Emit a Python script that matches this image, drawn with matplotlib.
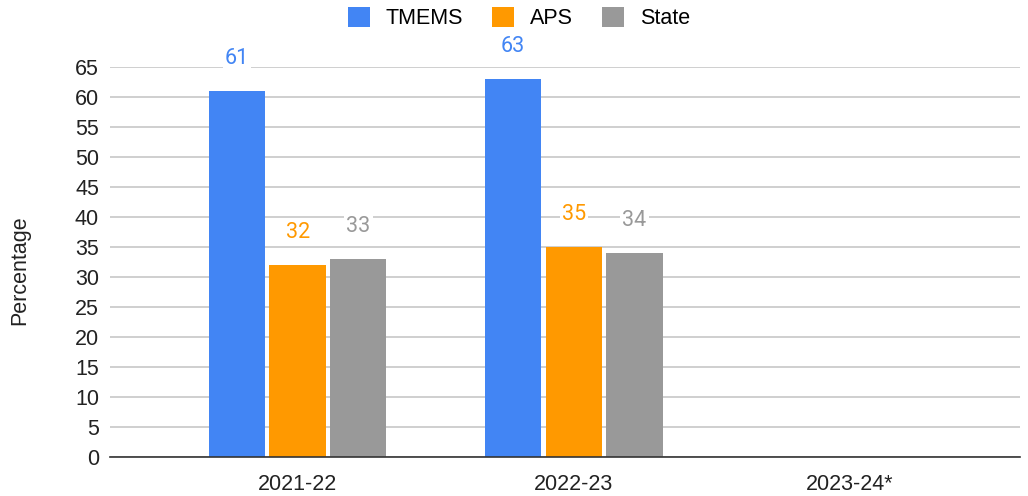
import numpy as np
import matplotlib
matplotlib.use("Agg")
import matplotlib.pyplot as plt

# -----------------------------
# DATA
# -----------------------------
years = ["2021-22", "2022-23", "2023-24*"]
series_names = ["TMEMS", "APS", "State"]
tmems = [61, 63, None]
aps = [32, 35, None]
state = [33, 34, None]
y_ticks = list(range(0, 70, 5))

colors = ["#4285F4", "#FF9900", "#999999"]

plt.rcParams["font.family"] = ["Liberation Sans", "DejaVu Sans"]

fig = plt.figure(figsize=(10.28, 4.96), dpi=100)
ax = fig.add_axes([110 / 1028, 39 / 496, 910 / 1028, 390 / 496])

x = np.arange(len(years))
width = 0.204
step = 0.2196

for i, (name, vals, col) in enumerate(zip(series_names, [tmems, aps, state], colors)):
    xs = [xi + (i - 1) * step for xi, v in zip(x, vals) if v is not None]
    vs = [v for v in vals if v is not None]
    ax.bar(xs, vs, width=width, color=col, label=name, zorder=3)
    for xx, v in zip(xs, vs):
        ax.annotate(str(v), (xx, v), xytext=(0, 23.5), textcoords="offset points",
                    ha="center", va="center", fontsize=15.5, color=col,
                    family=["Roboto", "DejaVu Sans"], zorder=4,
                    bbox=dict(boxstyle="square,pad=0.1", fc="white", ec="none"),
                    annotation_clip=False)

ax.set_xlim(-0.679, 2.615)
ax.set_ylim(0, 65)
ax.set_yticks(y_ticks)
ax.set_xticks(x)
ax.set_xticklabels(years)
ax.tick_params(axis="both", length=0, labelsize=15.5, colors="#222222")
ax.tick_params(axis="y", pad=8)
ax.tick_params(axis="x", pad=12)
ax.grid(axis="y", color="#cccccc", linewidth=1.3, zorder=0)
ax.set_axisbelow(True)

for s in ["top", "right", "left"]:
    ax.spines[s].set_visible(False)
ax.spines["bottom"].set_color("#333333")
ax.spines["bottom"].set_linewidth(1.2)
ax.spines["bottom"].set_zorder(5)

ax.set_ylabel("Percentage", fontsize=15.5, color="#222222")
ax.yaxis.set_label_coords(-0.0876, 0.48)

fig.legend(loc="center", bbox_to_anchor=(0.505, 0.963), ncol=3, frameon=False,
           fontsize=15.5, handlelength=1.0, handleheight=1.0, columnspacing=1.35,
           handletextpad=0.75)

fig.savefig("out.png", dpi=100)
